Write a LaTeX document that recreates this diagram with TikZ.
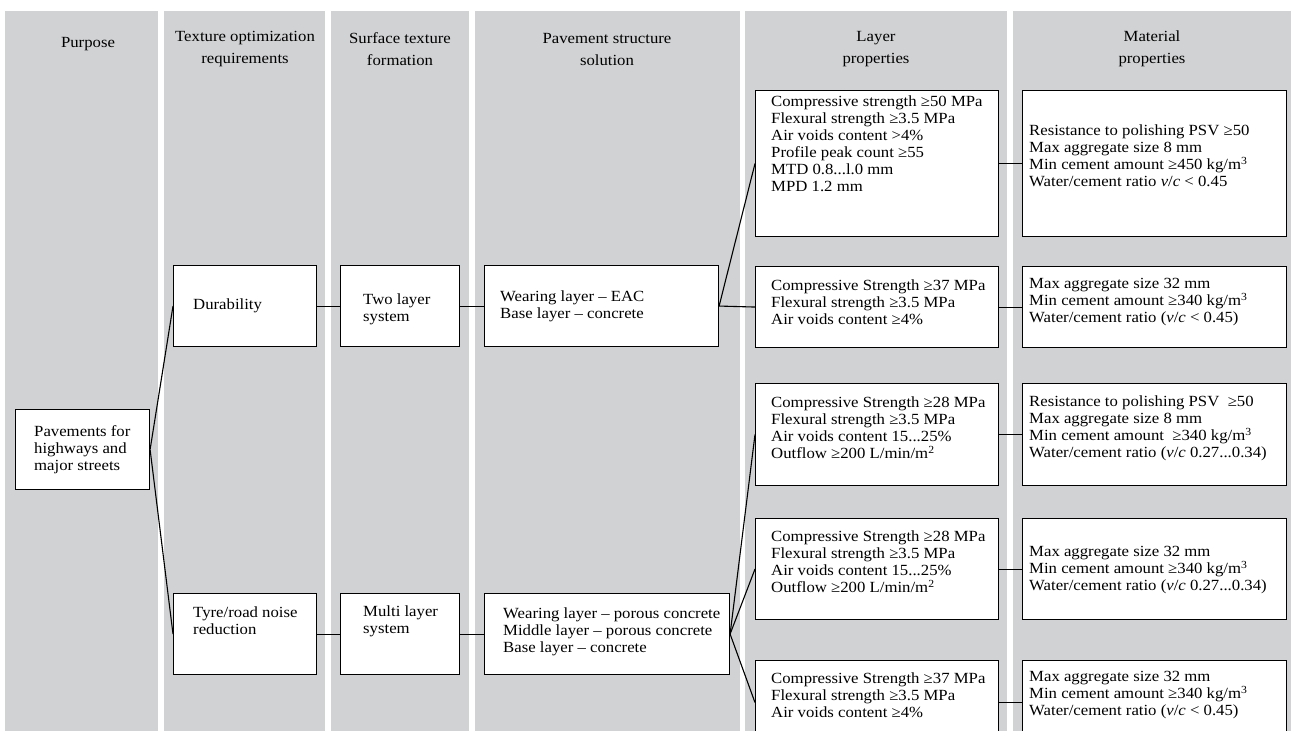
\documentclass[tikz,border=0pt]{standalone}
\usepackage{fontspec}
\setmainfont{Liberation Serif}[FakeStretch=1.08]
\definecolor{colgray}{HTML}{D1D2D4}
\begin{document}
\begin{tikzpicture}[x=1pt,y=-1pt,
  box/.style={draw=black, line width=1.1pt, fill=white, inner sep=0pt, anchor=north west},
  txt/.style={align=left, anchor=west, inner sep=0pt, font=\fontsize{15.5}{17}\selectfont},
  hd/.style={align=center, inner sep=0pt, font=\fontsize{15.5}{22}\selectfont},
  ln/.style={line width=1.1pt}]
\useasboundingbox (0,0) rectangle (1291,731);
\begin{scope}
\clip (0,0) rectangle (1291,731);
% columns
\fill[colgray] (5,11) rectangle (158,731);
\fill[colgray] (164,11) rectangle (325,731);
\fill[colgray] (331,11) rectangle (469,731);
\fill[colgray] (475,11) rectangle (740,731);
\fill[colgray] (745,11) rectangle (1007,731);
\fill[colgray] (1013,11) rectangle (1291,731);
% headers
\node[hd] (h1) at (88,44) {Purpose};
\node[hd] (h2) at (245,49) {Texture optimization\\requirements};
\node[hd] (h3) at (400,49) {Surface texture\\formation};
\node[hd] (h4) at (607,49) {Pavement structure\\solution};
\node[hd] (h5) at (876,49) {Layer\\properties};
\node[hd] (h6) at (1152,49) {Material\\properties};
% boxes
\node[box, minimum width=134, minimum height=80] (P) at (15,409) {};
\node[box, minimum width=143, minimum height=81] (D) at (173,265) {};
\node[box, minimum width=143, minimum height=81] (T) at (173,593) {};
\node[box, minimum width=119, minimum height=81] (TL) at (340,265) {};
\node[box, minimum width=119, minimum height=81] (ML) at (340,593) {};
\node[box, minimum width=234, minimum height=81] (WE) at (484,265) {};
\node[box, minimum width=245, minimum height=81] (WP) at (484,593) {};
\node[box, minimum width=243, minimum height=146] (L1) at (755,90) {};
\node[box, minimum width=264, minimum height=146] (M1) at (1022,90) {};
\node[box, minimum width=243, minimum height=81] (L2) at (755,266) {};
\node[box, minimum width=264, minimum height=81] (M2) at (1022,266) {};
\node[box, minimum width=243, minimum height=102] (L3) at (755,383) {};
\node[box, minimum width=264, minimum height=102] (M3) at (1022,383) {};
\node[box, minimum width=243, minimum height=101] (L4) at (755,518) {};
\node[box, minimum width=264, minimum height=101] (M4) at (1022,518) {};
\node[box, minimum width=243, minimum height=84] (L5) at (755,660) {};
\node[box, minimum width=264, minimum height=84] (M5) at (1022,660) {};
% texts
\node[txt] (Pt) at (34,450) {Pavements for\\highways and\\major streets};
\node[txt] (Dt) at (193,306) {Durability};
\node[txt] (Tt) at (193,621) {Tyre/road noise\\reduction};
\node[txt] (TLt) at (363,309) {Two layer\\system};
\node[txt] (MLt) at (363,621) {Multi layer\\system};
\node[txt] (WEt) at (500,306) {Wearing layer – EAC\\Base layer – concrete};
\node[txt] (WPt) at (503,632) {Wearing layer – porous concrete\\Middle layer – porous concrete\\Base layer – concrete};
\node[txt] (L1t) at (771,144) {Compressive strength ≥50 MPa\\Flexural strength ≥3.5 MPa\\Air voids content >4\%\\Profile peak count ≥55\\MTD 0.8...l.0 mm\\MPD 1.2 mm};
\node[txt] (M1t) at (1029,156) {Resistance to polishing PSV ≥50\\Max aggregate size 8 mm\\Min cement amount ≥450 kg/m\textsuperscript{3}\\Water/cement ratio \textit{v}/\textit{c} < 0.45};
\node[txt] (L2t) at (771,302) {Compressive Strength ≥37 MPa\\Flexural strength ≥3.5 MPa\\Air voids content ≥4\%};
\node[txt] (M2t) at (1029,302) {Max aggregate size 32 mm\\Min cement amount ≥340 kg/m\textsuperscript{3}\\Water/cement ratio (\textit{v}/\textit{c} < 0.45)};
\node[txt] (L3t) at (771,428) {Compressive Strength ≥28 MPa\\Flexural strength ≥3.5 MPa\\Air voids content 15...25\%\\Outflow ≥200 L/min/m\textsuperscript{2}};
\node[txt] (M3t) at (1029,428) {Resistance to polishing PSV\ \ ≥50\\Max aggregate size 8 mm\\Min cement amount\ \ ≥340 kg/m\textsuperscript{3}\\Water/cement ratio (\textit{v}/\textit{c} 0.27...0.34)};
\node[txt] (L4t) at (771,562) {Compressive Strength ≥28 MPa\\Flexural strength ≥3.5 MPa\\Air voids content 15...25\%\\Outflow ≥200 L/min/m\textsuperscript{2}};
\node[txt] (M4t) at (1029,570) {Max aggregate size 32 mm\\Min cement amount ≥340 kg/m\textsuperscript{3}\\Water/cement ratio (\textit{v}/\textit{c} 0.27...0.34)};
\node[txt] (L5t) at (771,695) {Compressive Strength ≥37 MPa\\Flexural strength ≥3.5 MPa\\Air voids content ≥4\%};
\node[txt] (M5t) at (1029,695) {Max aggregate size 32 mm\\Min cement amount ≥340 kg/m\textsuperscript{3}\\Water/cement ratio (\textit{v}/\textit{c} < 0.45)};
% connectors
\draw[ln] (P.east) -- (D.west);
\draw[ln] (P.east) -- (T.west);
\draw[ln] (D.east) -- (TL.west);
\draw[ln] (TL.east) -- (WE.west);
\draw[ln] (T.east) -- (ML.west);
\draw[ln] (ML.east) -- (WP.west);
\draw[ln] (WE.east) -- (L1.west);
\draw[ln] (WE.east) -- (L2.west);
\draw[ln] (WP.east) -- (L3.west);
\draw[ln] (WP.east) -- (L4.west);
\draw[ln] (WP.east) -- (L5.west);
\draw[ln] (L1.east) -- (M1.west);
\draw[ln] (L2.east) -- (M2.west);
\draw[ln] (L3.east) -- (M3.west);
\draw[ln] (L4.east) -- (M4.west);
\draw[ln] (L5.east) -- (M5.west);
\end{scope}
\end{tikzpicture}
\end{document}
